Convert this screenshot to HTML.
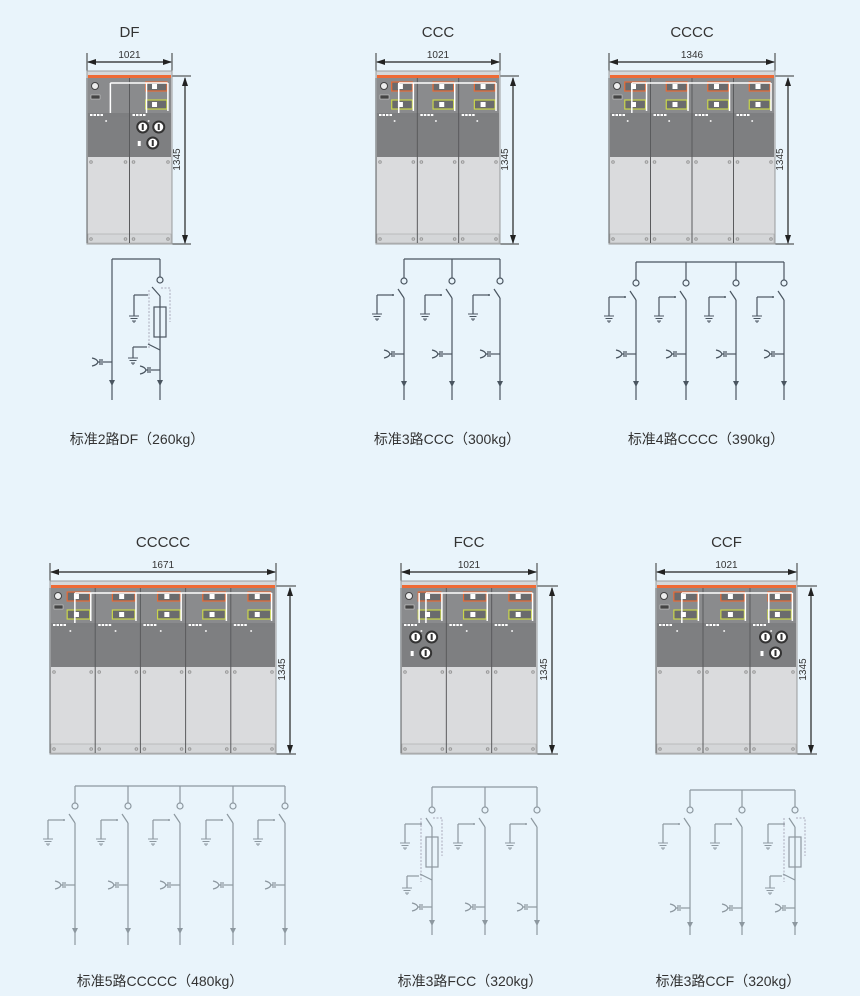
<!DOCTYPE html>
<html><head><meta charset="utf-8"><style>
html,body{margin:0;padding:0;background:#e9f4fb;}
svg{display:block;font-family:"Liberation Sans","Noto Sans CJK SC",sans-serif;}
</style></head><body>
<svg id="s" width="860" height="996" viewBox="0 0 860 996" xmlns="http://www.w3.org/2000/svg">
<rect width="860" height="996" fill="#e9f4fb"/>
<g id="g"></g>
</svg>
<script>
var out='';
function a(s){out+=s;}
function line(x1,y1,x2,y2,c,w,extra){a('<line x1="'+x1+'" y1="'+y1+'" x2="'+x2+'" y2="'+y2+'" stroke="'+c+'" stroke-width="'+(w||1)+'" '+(extra||'')+'/>');}
function rect(x,y,w,h,f,s,sw){a('<rect x="'+x+'" y="'+y+'" width="'+w+'" height="'+h+'" fill="'+f+'" stroke="'+(s||'none')+'" stroke-width="'+(sw||1)+'"/>');}
function text(x,y,t,size,anchor,extra){a('<text x="'+x+'" y="'+y+'" font-size="'+size+'" fill="#333" text-anchor="'+(anchor||'middle')+'" '+(extra||'')+'>'+t+'</text>');}

function cabinet(x0,x1,top,types,dimLabel,title,dimX){
  var bot=top+173, orng=top+4, dots=top+42, mid=top+86, base=top+163;
  var n=types.length, uw=(x1-x0)/n;
  var cx=(x0+x1)/2;
  text(cx,top-34,title,15);
  // width dimension
  line(x0,top-18,x0,top+4,'#333',1);line(x1,top-18,x1,top+4,'#333',1);
  line(x0+1,top-9,x1-1,top-9,'#222',1.2);
  a('<polygon points="'+x0+','+(top-9)+' '+(x0+9)+','+(top-12)+' '+(x0+9)+','+(top-6)+'" fill="#222"/>');
  a('<polygon points="'+x1+','+(top-9)+' '+(x1-9)+','+(top-12)+' '+(x1-9)+','+(top-6)+'" fill="#222"/>');
  text(cx,top-13,dimLabel,10);
  // height dim
  line(x1,orng+1,dimX+6,orng+1,'#333',1);
  line(x1,bot,dimX+6,bot,'#333',1);
  line(dimX,orng+3,dimX,bot-1,'#222',1.2);
  a('<polygon points="'+dimX+','+(orng+2)+' '+(dimX-3)+','+(orng+11)+' '+(dimX+3)+','+(orng+11)+'" fill="#222"/>');
  a('<polygon points="'+dimX+','+bot+' '+(dimX-3)+','+(bot-9)+' '+(dimX+3)+','+(bot-9)+'" fill="#222"/>');
  a('<text x="0" y="0" font-size="10" fill="#333" text-anchor="middle" transform="translate('+(dimX-5)+','+((orng+bot)/2)+') rotate(-90)">1345</text>');
  // frame
  rect(x0,top,x1-x0,bot-top,'#d6d8da','#9a9c9e',1);
  rect(x0+1,orng,x1-x0-2,3,'#ee6a35');
  rect(x0+1,orng+3,x1-x0-2,dots-orng-3,'#8a8b8d');
  rect(x0+1,dots,x1-x0-2,4,'#7d7e80');
  rect(x0+1,dots+4,x1-x0-2,mid-dots-4,'#7e7f81');
  rect(x0+1,mid,x1-x0-2,base-mid,'#dadbdd');
  rect(x0+1,base,x1-x0-2,bot-base-1,'#d4d6d8','#a8a8a8',0.6);
  // bus line
  var busY=orng+8;
  for(var i=0;i<n;i++){
    var ux=x0+i*uw, t=types[i];
    line(ux,orng+3,ux,bot-1,'#5a5b5d',1);
    // upper module
    if(i===0){a('<circle cx="'+(ux+8)+'" cy="'+(orng+11)+'" r="3.5" fill="#eee" stroke="#444" stroke-width="1"/>');rect(ux+4,orng+20,9,4,'#444','#ddd',0.5);}
    var bx=ux+uw*0.38, bw=uw*0.5;
    if(!(i===0&&title==='DF')){
      rect(bx,orng+7,bw,9,'#6a6b6d','#e86a35',1.2);
      rect(bx+bw*0.3,orng+9,5,5,'#fff');
      rect(bx,orng+25,bw,9,'#6a6b6d','#c9d54a',1.2);
      rect(bx+bw*0.3,orng+27,5,5,'#fff');
      line(bx+bw+1,busY,bx+bw+1,orng+36,'#fff',1.5);
    }
    if(t==='F'){
      line(ux+uw*0.4,busY,ux+uw*0.4,dots,'#fff',1.5);
    }
    // dots row
    for(var k=0;k<4;k++) rect(ux+3+k*3.5,dots+1,2.5,2,'#fff');
    a('<circle cx="'+(ux+uw*0.45)+'" cy="'+(dots+8)+'" r="1" fill="#eee"/>');
    // mid
    if(t==='F'){
      var mx=ux+uw/2;
      [[mx-8,dots+14],[mx+8,dots+14],[mx+2,dots+30]].forEach(function(p){
        a('<circle cx="'+p[0]+'" cy="'+p[1]+'" r="5.5" fill="#fff" stroke="#333" stroke-width="2"/>');
        line(p[0],p[1]-3,p[0],p[1]+3,'#333',2);
      });
      rect(mx-13,dots+28,3,5,'#fff');
    }
    // lower circles
    a('<circle cx="'+(ux+4)+'" cy="'+(mid+5)+'" r="1.3" fill="none" stroke="#999"/>');
    a('<circle cx="'+(ux+uw-4)+'" cy="'+(mid+5)+'" r="1.3" fill="none" stroke="#999"/>');
    a('<circle cx="'+(ux+4)+'" cy="'+(base+5)+'" r="1.3" fill="none" stroke="#999"/>');
    a('<circle cx="'+(ux+uw-4)+'" cy="'+(base+5)+'" r="1.3" fill="none" stroke="#999"/>');
  }
  line(x0+uw*0.55,busY,x1-uw*0.1,busY,'#fff',1.5);
  line(x0+uw*0.55,busY,x0+uw*0.55,dots,'#fff',1.5);
}

function ground(x,y,c){
  line(x-5,y,x+5,y,c,1);line(x-3.5,y+2.5,x+3.5,y+2.5,c,1);line(x-2,y+5,x+2,y+5,c,1);line(x,y+5,x,y+7,c,1);
}
function cap(x,y,c){ // capacitor to left of feeder at x
  line(x-9,y,x,y,c,1.2);
  line(x-10,y-3,x-10,y+3,c,1.2);line(x-12,y-3,x-12,y+3,c,1.2);
  a('<path d="M'+(x-20)+','+(y-4)+' Q'+(x-15)+','+(y-3)+' '+(x-14)+','+y+' Q'+(x-15)+','+(y+3)+' '+(x-20)+','+(y+4)+'" fill="none" stroke="'+c+'" stroke-width="1.2"/>');
  line(x-14,y,x-12,y,c,1.2);
}
function arrow(x,y,c){a('<polygon points="'+(x-3)+','+y+' '+(x+3)+','+y+' '+x+','+(y+6)+'" fill="'+c+'"/>');}
function feeder(x,busY,yc,yEnd,capY,arrY,c,fuse){
  line(x,busY,x,yc-3,c,1.2);
  a('<circle cx="'+x+'" cy="'+yc+'" r="3" fill="none" stroke="'+c+'" stroke-width="1.2"/>');
  line(x-6,yc+8,x,yc+17,c,1.2);
  line(x,yc+17,x,yEnd,c,1.2);
  // earth switch
  line(x-27,yc+14,x-11,yc+14,c,1.2);
  a('<circle cx="'+(x-11)+'" cy="'+(yc+14)+'" r="1" fill="'+c+'"/>');
  line(x-27,yc+14,x-27,yc+33,c,1.2);
  ground(x-27,yc+33,c);
  cap(x,capY,c);
  arrow(x,arrY,c);
  if(fuse){
    rect(x-6,yc+27,12,30,'none',c,1.2);
    a('<path d="M'+(x-11)+','+(yc+8)+' V'+(yc+72)+' M'+(x+1)+','+(yc+8)+' H'+(x+10)+' V'+(yc+46)+'" fill="none" stroke="#aab" stroke-width="1" stroke-dasharray="2,1.5"/>');
    line(x-12,yc+64,x,yc+70,c,1.2);
    line(x-25,yc+66,x-13,yc+66,c,1.2);
    line(x-25,yc+66,x-25,yc+78,c,1.2);
    ground(x-25,yc+78,c);
  }
}
function bus(xs,busY,c){line(xs[0],busY,xs[xs.length-1],busY,c,1.2);}

var C1='#4a5560', C2='#8d98a0';
// top row
cabinet(87,172,71,['C','F'],'1021','DF',185);
cabinet(376,500,71,['C','C','C'],'1021','CCC',513);
cabinet(609,775,71,['C','C','C','C'],'1346','CCCC',788);
// bottom row
cabinet(50,276,581,['C','C','C','C','C'],'1671','CCCCC',290);
cabinet(401,537,581,['F','C','C'],'1021','FCC',552);
cabinet(656,797,581,['C','C','F'],'1021','CCF',811);

// DF schematic
(function(){
  var c=C1;
  line(112,259,160,259,c,1.2);line(112,259,112,400,c,1.2);
  line(160,259,160,277,c,1.2);
  a('<circle cx="160" cy="280" r="3" fill="none" stroke="'+c+'" stroke-width="1.2"/>');
  line(152,287,160,296,c,1.2);line(160,296,160,400,c,1.2);
  line(134,295,148,295,c,1.2);line(134,295,134,316,c,1.2);ground(134,316,c);
  rect(154,307,12,30,'none',c,1.2);
  a('<path d="M149,290 V348 M161,288 H170 V322" fill="none" stroke="#aab" stroke-width="1" stroke-dasharray="2,1.5"/>');
  line(148,344,160,350,c,1.2);
  line(133,347,147,347,c,1.2);line(133,347,133,358,c,1.2);ground(133,358,c);
  cap(112,362,c);cap(160,370,c);
  arrow(112,380,c);arrow(160,380,c);
})();
// CCC
bus([404,452,500],259,C1);
[404,452,500].forEach(function(x){feeder(x,259,281,400,354,381,C1);});
// CCCC
bus([636,686,736,784],262,C1);
[636,686,736,784].forEach(function(x){feeder(x,262,283,400,354,381,C1);});
// CCCCC
bus([75,128,180,233,285],786,C2);
[75,128,180,233,285].forEach(function(x){feeder(x,786,806,945,885,928,C2);});
// FCC
bus([432,485,537],787,C2);
feeder(432,787,810,935,907,920,C2,true);
feeder(485,787,810,935,907,920,C2);
feeder(537,787,810,935,907,920,C2);
// CCF
bus([690,742,795],790,C2);
feeder(690,790,810,935,908,922,C2);
feeder(742,790,810,935,908,922,C2);
feeder(795,790,810,935,908,922,C2,true);

text(137,444,'标准2路DF（260kg）',14);
text(447,444,'标准3路CCC（300kg）',14);
text(706,444,'标准4路CCCC（390kg）',14);
text(160,986,'标准5路CCCCC（480kg）',14);
text(470,986,'标准3路FCC（320kg）',14);
text(728,986,'标准3路CCF（320kg）',14);

document.getElementById('g').innerHTML=out;
</script>
</body></html>
